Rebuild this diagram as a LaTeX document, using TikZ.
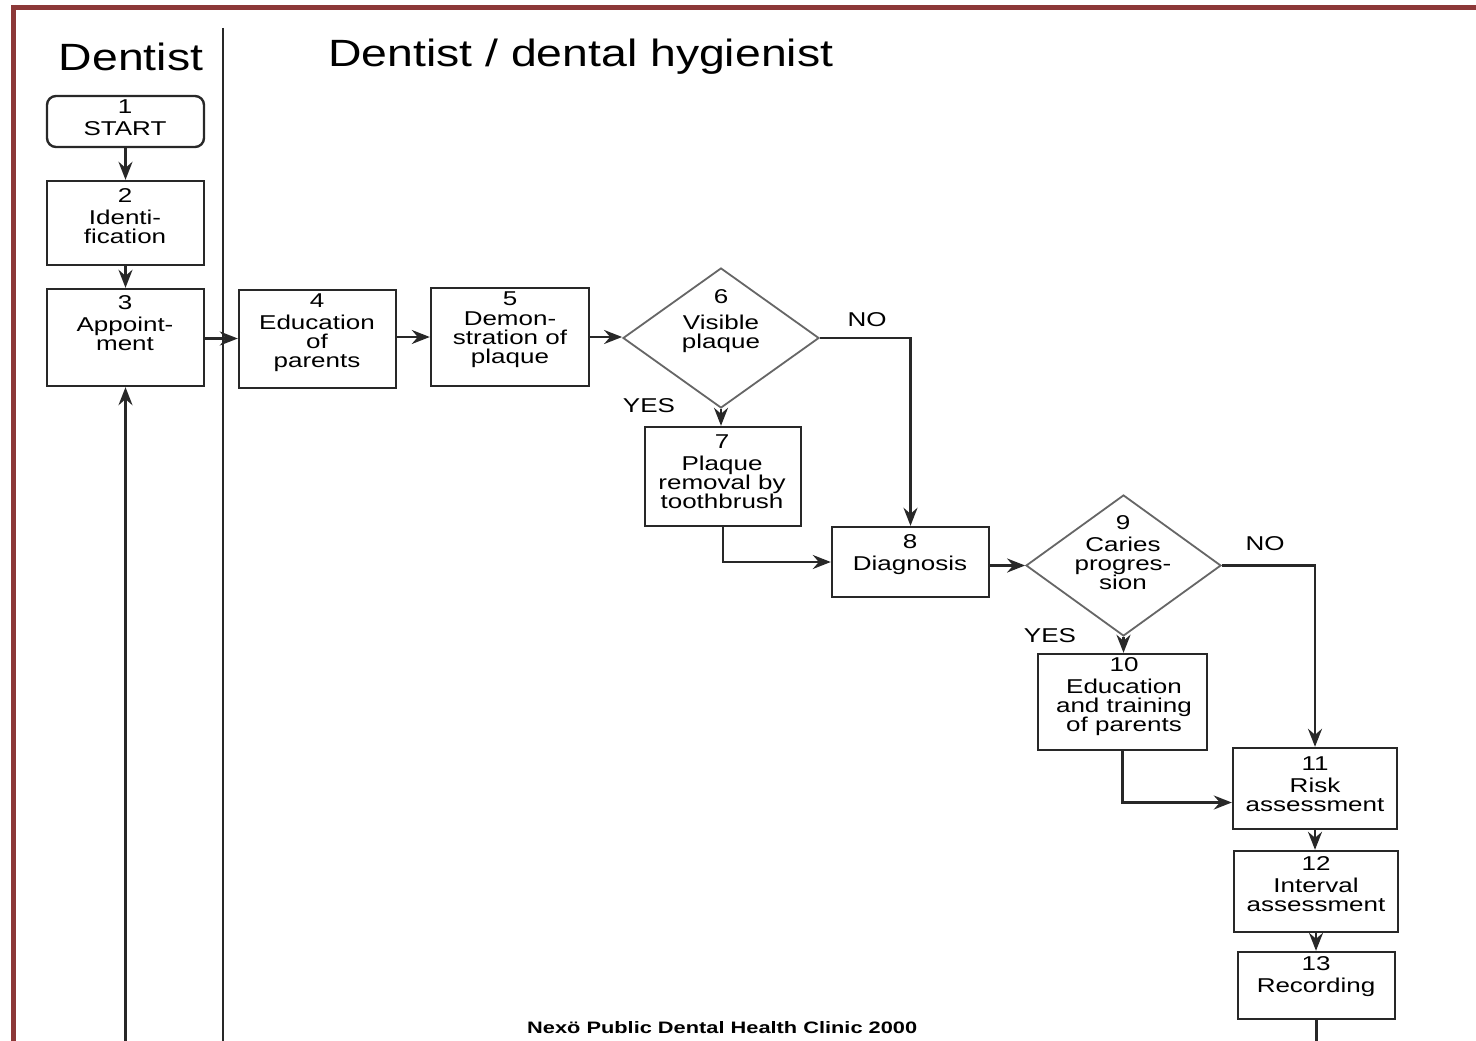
\documentclass[tikz,border=0pt]{standalone}
\usepackage{fontspec}
\usepackage{graphicx}
\setmainfont{Liberation Sans}
\newfontfamily\nf[FakeStretch=1.3]{Liberation Sans}
\newfontfamily\hf[FakeStretch=1.22]{Liberation Sans}
\usetikzlibrary{arrows.meta,shapes.geometric,calc}
\definecolor{frame}{RGB}{140,56,56}
\definecolor{ln}{RGB}{40,40,40}
\begin{document}
\begin{tikzpicture}[x=1pt,y=-1pt,
  box/.style={rectangle,draw=ln,line width=2.4pt,inner sep=0pt},
  dia/.style={diamond,draw=black!60,line width=1.8pt,inner sep=0pt},
  txt/.style={font=\nf\fontsize{20}{19}\selectfont,align=center,inner sep=0pt},
  lbl/.style={font=\nf\fontsize{20}{19}\selectfont,inner sep=0pt},
  head/.style={font=\hf\fontsize{38}{42}\selectfont,inner sep=0pt},
  arr/.style={draw=ln,line width=2.4pt,-{Stealth[length=18pt,width=14pt,inset=6pt]}},
  plain/.style={draw=ln,line width=2.4pt}]
\useasboundingbox (0,0) rectangle (1476,1041);
\fill[white] (0,0) rectangle (1476,1041);
% frame
\draw[frame,line width=5pt] (11,7.5) -- (1476,7.5);
\draw[frame,line width=5pt] (13.5,5) -- (13.5,1041);
% lane divider
\draw[ln,line width=2.4pt] (223,28) -- (223,1041);
% headings
\node[head] (h1) at (131,57) {Dentist};
\node[head,anchor=west] (h2) at (328,57) {Dentist / dental hygienist};
% boxes
\node[box,rounded corners=9pt,minimum width=157pt,minimum height=51pt] (b1) at (125.5,121.5) {};
\node[box,minimum width=157pt,minimum height=84pt] (b2) at (125.5,223) {};
\node[box,minimum width=157pt,minimum height=97pt] (b3) at (125.5,337.5) {};
\node[box,minimum width=157pt,minimum height=98pt] (b4) at (317.5,339) {};
\node[box,minimum width=158pt,minimum height=98pt] (b5) at (510,337) {};
\node[dia,minimum width=196pt,minimum height=140pt] (d6) at (721,338) {};
\node[box,minimum width=156pt,minimum height=99pt] (b7) at (723,476.5) {};
\node[box,minimum width=157pt,minimum height=70pt] (b8) at (910.5,562) {};
\node[dia,minimum width=195pt,minimum height=141pt] (d9) at (1123.5,565.5) {};
\node[box,minimum width=169pt,minimum height=96pt] (b10) at (1122.5,702) {};
\node[box,minimum width=164pt,minimum height=81pt] (b11) at (1315,788.5) {};
\node[box,minimum width=164pt,minimum height=81pt] (b12) at (1316,891.5) {};
\node[box,minimum width=157pt,minimum height=67pt] (b13) at (1316.5,985.5) {};
% texts
\node[txt] (t1) at (125,118) {1\\[3pt]START};
\node[txt] (t2) at (125,216) {2\\[3pt]Identi-\\fication};
\node[txt] (t3) at (125,323) {3\\[3pt]Appoint-\\ment};
\node[txt] (t4) at (317,333) {4\\[3pt]Education\\of\\parents};
\node[txt] (t5) at (510,330) {5\\[1pt]Demon-\\stration of\\plaque};
\node[txt] (t6) at (721,321) {6\\[7pt]Visible\\plaque};
\node[txt] (t7) at (722,472) {7\\[3pt]Plaque\\removal by\\toothbrush};
\node[txt] (t8) at (910,555) {8\\[3pt]Diagnosis};
\node[txt] (t9) at (1123,553) {9\\[3pt]Caries\\progres-\\sion};
\node[txt] (t10) at (1124,697) {10\\[3pt]Education\\and training\\of parents};
\node[txt] (t11) at (1315,784) {11\\[3pt]Risk\\assessment};
\node[txt] (t12) at (1316,884) {12\\[3pt]Interval\\assessment};
\node[txt] (t13) at (1316,977) {13\\[3pt]Recording};
% labels
\node[lbl] (no1) at (867,320) {NO};
\node[lbl] (yes1) at (649,406) {YES};
\node[lbl] (no2) at (1265,544) {NO};
\node[lbl] (yes2) at (1050,636) {YES};
% footer
\node[inner sep=0pt,anchor=west] (foot) at (527,1028) {\resizebox{390pt}{12pt}{\bfseries Nexö Public Dental Health Clinic 2000}};
% free ends
\coordinate (bot3) at (125.5,1041);
\coordinate (bot13) at (1316.5,1041);
% connectors
\draw[arr] (b1.south) -- (b2.north);
\draw[arr] (b2.south) -- (b3.north);
\draw[arr] ([yshift=-1pt]b3.east) -- ([yshift=-1pt]b3.east -| b4.west);
\draw[arr] (b4.east |- b5.east) -- (b5.west);
\draw[arr] (b5.east) -- (b5.east -| d6.west);
\draw[arr] (d6.east) -| (b8.north);
\draw[arr] (d6.south) -- (d6.south |- b7.north);
\draw[arr] (b7.south) |- (b8.west);
\draw[arr] (b8.east |- d9.west) -- (d9.west);
\draw[arr] (d9.east) -| (b11.north);
\draw[arr] (d9.south) -- (d9.south |- b10.north);
\draw[arr] (b10.south) |- ([yshift=-14pt]b11.west);
\draw[arr] (b11.south) -- (b11.south |- b12.north);
\draw[arr] (b12.south) -- (b12.south |- b13.north);
\draw[plain] (b13.south) -- (bot13);
\draw[arr] (bot3) -- (b3.south);
\end{tikzpicture}
\end{document}
